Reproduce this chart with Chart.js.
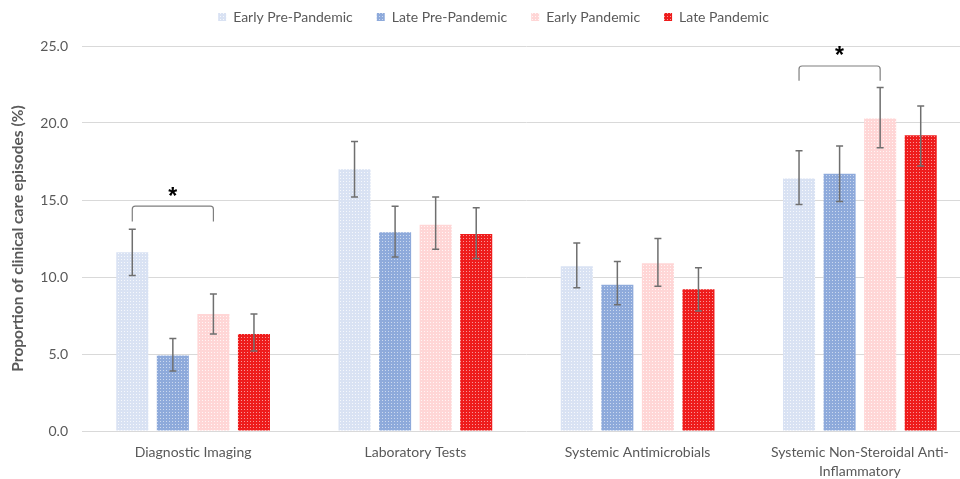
<!DOCTYPE html>
<html>
<head>
<meta charset="utf-8">
<script src="https://cdn.jsdelivr.net/npm/chart.js@4/dist/chart.umd.min.js"></script>
<style>
  html, body { margin: 0; padding: 0; background: #ffffff; overflow: hidden; }
  #wrap { width: 960px; height: 479px; overflow: hidden; position: relative; }
  #chart { display: block; }
</style>
</head>
<body>
<div id="wrap"><canvas id="chart" width="980" height="479"></canvas></div>
<script>
// Categories of clinical care
const categories = [
  'Diagnostic Imaging',
  'Laboratory Tests',
  'Systemic Antimicrobials',
  ['Systemic Non-Steroidal Anti-', 'Inflammatory']
];

// Proportions (%) with 95% confidence limits, one set per period
const earlyPre     = [11.6, 17.0, 10.7, 16.4];
const earlyPreLow  = [10.1, 15.2,  9.3, 14.7];
const earlyPreHigh = [13.1, 18.8, 12.2, 18.2];

const latePre      = [ 4.9, 12.9,  9.5, 16.7];
const latePreLow   = [ 3.9, 11.3,  8.2, 14.9];
const latePreHigh  = [ 6.0, 14.6, 11.0, 18.5];

const earlyPan     = [ 7.6, 13.4, 10.9, 20.3];
const earlyPanLow  = [ 6.3, 11.8,  9.4, 18.4];
const earlyPanHigh = [ 8.9, 15.2, 12.5, 22.3];

const latePan      = [ 6.3, 12.8,  9.2, 19.2];
const latePanLow   = [ 5.2, 11.2,  7.8, 17.2];
const latePanHigh  = [ 7.6, 14.5, 10.6, 21.1];

const seriesNames = ['Early Pre-Pandemic', 'Late Pre-Pandemic', 'Early Pandemic', 'Late Pandemic'];

// Y axis range
const yMin = 0, yMax = 25, yStep = 5;

// Significant pairwise differences: category index, the two series compared,
// bracket height and leg end (axis units)
const sigCategory = [0, 3];
const sigFrom     = [0, 0];
const sigTo       = [2, 2];
const sigLevel    = [14.6, 23.7];
const sigLegEnd   = [13.6, 22.75];

// Fine dotted fill, like a shaded office-chart texture
function dotted(base, dot) {
  const c = document.createElement('canvas');
  c.width = 3; c.height = 3;
  const g = c.getContext('2d');
  g.fillStyle = base; g.fillRect(0, 0, 3, 3);
  g.fillStyle = dot; g.fillRect(1, 1, 1, 1);
  return g.createPattern(c, 'repeat');
}

const fills = [
  dotted('#d9e2f3', 'rgba(255,255,255,0.75)'),
  dotted('#8eaadb', 'rgba(255,255,255,0.55)'),
  dotted('#ffd6d6', 'rgba(255,255,255,0.75)'),
  dotted('#ee1c1c', 'rgba(255,255,255,0.55)')
];

const values = [earlyPre, latePre, earlyPan, latePan];
const lows   = [earlyPreLow, latePreLow, earlyPanLow, latePanLow];
const highs  = [earlyPreHigh, latePreHigh, earlyPanHigh, latePanHigh];

// Legend band: fixed height, items raised and nudged right
const LEGEND_BAND = 46;
const LEGEND_RAISE = 14;
const LEGEND_SHIFT = 8;
const legendPlacement = {
  id: 'legendPlacement',
  beforeInit(chart) {
    const lg = chart.legend;
    if (!lg) return;
    const fit = lg.fit.bind(lg);
    lg.fit = function () { fit(); this.height = LEGEND_BAND; };
  },
  beforeDraw(chart) {
    const lg = chart.legend;
    if (!lg || lg._placed) return;
    lg.top -= LEGEND_RAISE; lg.bottom -= LEGEND_RAISE;
    lg.left += LEGEND_SHIFT; lg.right += LEGEND_SHIFT;
    lg._placed = true;
  }
};

// Error bars drawn from the confidence limits
const errorBars = {
  id: 'errorBars',
  afterDatasetsDraw(chart) {
    const ctx = chart.ctx, y = chart.scales.y;
    ctx.save();
    ctx.strokeStyle = '#6f6f6f';
    ctx.lineWidth = 1.5;
    chart.data.datasets.forEach((ds, i) => {
      const meta = chart.getDatasetMeta(i);
      meta.data.forEach((bar, k) => {
        const x = bar.x;
        const yt = y.getPixelForValue(highs[i][k]);
        const yb = y.getPixelForValue(lows[i][k]);
        const cap = 3.5;
        ctx.beginPath();
        ctx.moveTo(x, yt); ctx.lineTo(x, yb);
        ctx.moveTo(x - cap, yt); ctx.lineTo(x + cap, yt);
        ctx.moveTo(x - cap, yb); ctx.lineTo(x + cap, yb);
        ctx.stroke();
      });
    });
    ctx.restore();
  }
};

// Significance brackets with asterisks
const sigBrackets = {
  id: 'sigBrackets',
  afterDatasetsDraw(chart) {
    const ctx = chart.ctx, y = chart.scales.y;
    ctx.save();
    for (let n = 0; n < sigCategory.length; n++) {
      const k = sigCategory[n];
      const x1 = chart.getDatasetMeta(sigFrom[n]).data[k].x;
      const x2 = chart.getDatasetMeta(sigTo[n]).data[k].x;
      const yTop = y.getPixelForValue(sigLevel[n]);
      const yLeg = y.getPixelForValue(sigLegEnd[n]);
      const r = 3;
      ctx.strokeStyle = '#7f7f7f';
      ctx.lineWidth = 1.2;
      ctx.beginPath();
      ctx.moveTo(x1, yLeg);
      ctx.lineTo(x1, yTop + r);
      ctx.quadraticCurveTo(x1, yTop, x1 + r, yTop);
      ctx.lineTo(x2 - r, yTop);
      ctx.quadraticCurveTo(x2, yTop, x2, yTop + r);
      ctx.lineTo(x2, yLeg);
      ctx.stroke();
      ctx.fillStyle = '#000000';
      ctx.font = 'bold 23px "Liberation Sans", Arial, sans-serif';
      ctx.textAlign = 'center';
      ctx.textBaseline = 'middle';
      ctx.fillText('*', (x1 + x2) / 2, yTop - 9);
    }
    ctx.restore();
  }
};

const FONT = 'Lato, "Open Sans", sans-serif';

new Chart(document.getElementById('chart'), {
  type: 'bar',
  data: {
    labels: categories,
    datasets: seriesNames.map((name, i) => ({
      label: name,
      data: values[i],
      backgroundColor: fills[i],
      borderWidth: 0,
      categoryPercentage: 0.73,
      barPercentage: 0.79
    }))
  },
  plugins: [legendPlacement, errorBars, sigBrackets],
  options: {
    responsive: false,
    animation: false,
    layout: { padding: { left: 0, right: 9, top: 0, bottom: 0 } },
    plugins: {
      legend: {
        position: 'top',
        labels: {
          boxWidth: 8,
          boxHeight: 8,
          padding: 24,
          color: '#595959',
          font: { family: FONT, size: 14 }
        }
      },
      tooltip: { enabled: false }
    },
    scales: {
      x: {
        grid: { display: false },
        border: { display: false },
        ticks: {
          color: '#595959',
          padding: 4,
          maxRotation: 0,
          autoSkip: false,
          font: { family: FONT, size: 14, lineHeight: 1.35 }
        },
        afterFit(s) { s.height = 48; }
      },
      y: {
        min: yMin,
        max: yMax,
        border: { display: false },
        grid: { color: '#d9d9d9', lineWidth: 1, drawTicks: false },
        ticks: {
          stepSize: yStep,
          padding: 14,
          color: '#595959',
          font: { family: FONT, size: 14 },
          callback: v => v.toFixed(1)
        },
        title: {
          display: true,
          text: 'Proportion of clinical care episodes (%)',
          color: '#595959',
          font: { family: FONT, size: 15.5, weight: 'bold' },
          padding: { top: 9, bottom: 8 }
        },
        afterFit(s) { s.width = 82; }
      }
    }
  }
});
</script>
</body>
</html>
